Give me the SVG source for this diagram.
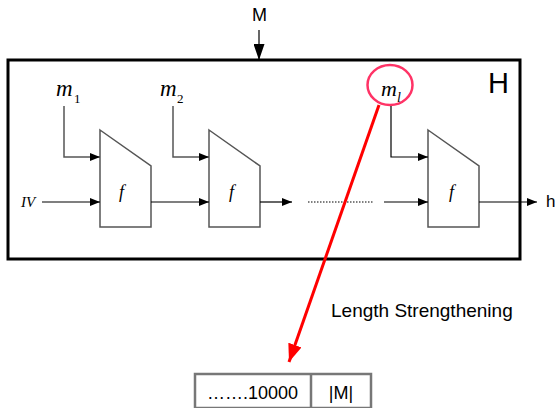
<svg xmlns="http://www.w3.org/2000/svg" width="558" height="408" viewBox="0 0 558 408">
<defs>
<marker id="ah" markerWidth="10" markerHeight="8" refX="10" refY="4" orient="auto" markerUnits="userSpaceOnUse"><path d="M0,0 L10,4 L0,8 Z" fill="#000"/></marker>
<marker id="bigah" markerWidth="16" markerHeight="11" refX="16" refY="5.5" orient="auto" markerUnits="userSpaceOnUse"><path d="M0,0 L16,5.5 L0,11 Z" fill="#000"/></marker>
<marker id="redah" markerWidth="18" markerHeight="14" refX="18" refY="7" orient="auto" markerUnits="userSpaceOnUse"><path d="M0,0 L18,7 L0,14 Z" fill="#ff0000"/></marker>
</defs>
<style>
.blk{fill:#fff;stroke:#555;stroke-width:1.5}
.ln{fill:none;stroke:#000;stroke-width:1.2}
.gl{fill:none;stroke:#555;stroke-width:1.5}
.it{font-family:"Liberation Serif",serif;font-style:italic;fill:#000}
.sub{font-family:"Liberation Serif",serif;fill:#000}
.sans{font-family:"Liberation Sans",Arial,sans-serif;fill:#000}
</style>
<g id="outer-box"><rect x="8" y="60" width="512" height="199" fill="none" stroke="#000" stroke-width="3"/>
<text class="sans" x="488" y="93" font-size="29">H</text></g>
<g id="M-label"><text class="sans" x="252" y="21" font-size="18">M</text></g>
<g id="h-label"><text class="sans" x="546" y="207" font-size="17">h</text></g>
<g id="IV-label"><text class="it" x="21" y="207" font-size="15">IV</text></g>
<g id="m1-label"><text class="it" x="56" y="96" font-size="23">m</text><text class="sub" x="74" y="103" font-size="13">1</text></g>
<g id="m2-label"><text class="it" x="160" y="96" font-size="23">m</text><text class="sub" x="177" y="103" font-size="13">2</text></g>
<g id="ml-label"><ellipse cx="390" cy="85" rx="22.5" ry="20" fill="none" stroke="#ff3366" stroke-width="2.5"/><text class="it" x="381" y="96" font-size="22">m</text><text class="it" x="397" y="102" font-size="14">l</text></g>
<g id="f1"><path class="blk" d="M100,130 L151,166 L151,227 L100,227 Z"/><text class="it" x="119" y="198" font-size="18">f</text></g>
<g id="f2"><path class="blk" d="M209,130 L260,166 L260,227 L209,227 Z"/><text class="it" x="229" y="198" font-size="18">f</text></g>
<g id="f3"><path class="blk" d="M428,130 L479,166 L479,227 L428,227 Z"/><text class="it" x="449" y="198" font-size="18">f</text></g>
<g id="length-label"><text class="sans" x="331" y="317" font-size="19">Length Strengthening</text></g>
<g id="pad-box"><rect x="195" y="374" width="176" height="34" fill="#fff" stroke="#777" stroke-width="2.5"/><line x1="311" y1="374" x2="311" y2="408" stroke="#777" stroke-width="2.5"/>
<text class="sans" x="207" y="399" font-size="18">…….10000</text><text class="sans" x="341" y="399" font-size="18" text-anchor="middle">|M|</text></g>
<g id="connectors">
<line class="ln" x1="259" y1="30" x2="259" y2="60" stroke-width="2.5" marker-end="url(#bigah)"/>
<polyline class="gl" points="64,106 64,157 100,157" marker-end="url(#ah)"/>
<polyline class="gl" points="173,106 173,157 209,157" marker-end="url(#ah)"/>
<polyline class="ln" points="391,106 391,157 428,157" marker-end="url(#ah)"/>
<line class="ln" x1="42" y1="202" x2="100" y2="202" marker-end="url(#ah)"/>
<line class="ln" x1="151" y1="202" x2="209" y2="202" marker-end="url(#ah)"/>
<line class="ln" x1="260" y1="202" x2="292" y2="202" marker-end="url(#ah)"/>
<line class="ln" x1="308" y1="202" x2="374" y2="202" stroke-dasharray="1.5,1.5"/>
<line class="ln" x1="384" y1="202" x2="428" y2="202" marker-end="url(#ah)"/>
<line class="ln" x1="479" y1="202" x2="537" y2="202" marker-end="url(#ah)"/>
<line x1="379" y1="105" x2="289" y2="362" stroke="#ff0000" stroke-width="3" marker-end="url(#redah)"/>
</g>
</svg>
